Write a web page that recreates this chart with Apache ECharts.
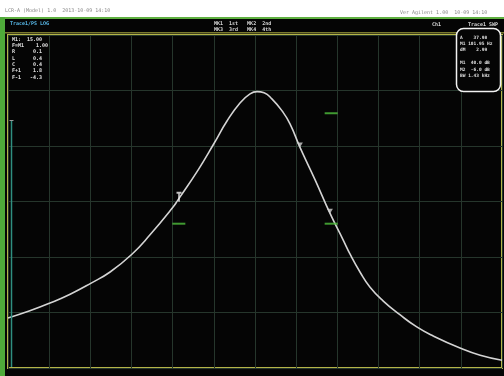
<!DOCTYPE html>
<html>
<head>
<meta charset="utf-8">
<script src="https://cdn.jsdelivr.net/npm/echarts@6/dist/echarts.min.js"></script>
<style>
  html, body { margin: 0; padding: 0; background: #ffffff; }
  #chart { width: 504px; height: 376px; }
</style>
</head>
<body>
<div id="chart"></div>
<script>
// Screen divisions: 12 horizontal x 6 vertical
const xDivisions = [0, 12];
const yDivisions = [0, 6];

// Resonance trace, position in divisions
const traceX = [0.00, 0.53, 1.02, 1.51, 2.02, 2.48, 3.01, 3.45, 4.01, 4.13, 4.62, 5.00, 5.32, 5.64, 5.88, 6.05, 6.22, 6.41, 6.66, 6.85, 7.09, 7.46, 7.82, 8.14, 8.31, 8.55, 8.79, 9.11, 9.52, 9.93, 10.32, 10.98, 11.47, 12.00];
const traceY = [0.90, 1.03, 1.17, 1.33, 1.53, 1.73, 2.05, 2.40, 2.90, 3.03, 3.57, 4.04, 4.45, 4.78, 4.94, 4.98, 4.96, 4.85, 4.63, 4.40, 3.98, 3.39, 2.79, 2.31, 2.05, 1.73, 1.46, 1.21, 0.96, 0.74, 0.58, 0.36, 0.23, 0.14];

// Markers on the trace
const marker1 = [4.13, 3.03];
const deltaMarkersX = [7.09, 7.82];
const deltaMarkersY = [3.98, 2.79];

// Limit ticks (green)
const limitX = [4.15, 7.85, 7.85];
const limitY = [2.60, 4.59, 2.60];

// Readout texts
const headerLeft = 'Trace1/PS LOG';
const headerMid1 = 'MK1  1st   MK2  2nd';
const headerMid2 = 'MK3  3rd   MK4  4th';
const headerCh = 'Ch1';
const headerRight = 'Trace1 SWP';
const topLeftInfo = 'LCR-A (Model) 1.0  2013-10-09 14:10';
const topRightInfo = 'Ver Agilent 1.00  10-09 14:10';
const leftReadout = ['M1:  15.00', 'F=M1    1.00', 'R      0.1', 'L      0.4', 'C      0.4', 'F+1    1.8', 'F-1   -4.3'];
const rightReadout = ['A    37.98', 'M1 101.95 Hz', 'dM    2.99', '', 'M1  40.0 dB', 'M2  -6.0 dB', 'BW 1.43 kHz'];

const chart = echarts.init(document.getElementById('chart'), null, { renderer: 'canvas' });

const FONT = 'DejaVu Sans Mono';
const graphics = [
  // instrument screen
  { type: 'rect', z: -10, shape: { x: 0, y: 19, width: 504, height: 357 }, style: { fill: '#050505' } },
  { type: 'rect', z: -9, shape: { x: 0, y: 17, width: 504, height: 2 }, style: { fill: '#5fb040' } },
  { type: 'rect', z: -9, shape: { x: 0, y: 17, width: 5, height: 359 }, style: { fill: '#4faa3a' } },
  // header divider
  { type: 'rect', z: -8, shape: { x: 5, y: 32, width: 499, height: 1.5 }, style: { fill: '#7a7a30' } },
  // reference level bar
  { type: 'line', z: 5, shape: { x1: 11.5, y1: 121, x2: 11.5, y2: 367 }, style: { stroke: '#2f8f80', lineWidth: 1.5 } },
  { type: 'line', z: 5, shape: { x1: 9.5, y1: 120.5, x2: 13.5, y2: 120.5 }, style: { stroke: '#9a9a9a', lineWidth: 1 } },
  // top strip
  { type: 'text', x: 5, y: 8, style: { text: topLeftInfo, fill: '#8a8a8a', font: '5px ' + FONT } },
  { type: 'text', x: 400, y: 10, style: { text: topRightInfo, fill: '#8a8a8a', font: '5px ' + FONT } },
  // header
  { type: 'text', x: 10, y: 21, style: { text: headerLeft, fill: '#58b8e8', font: 'bold 5px ' + FONT } },
  { type: 'text', x: 214, y: 21, style: { text: headerMid1, fill: '#d8d8d8', font: 'bold 5px ' + FONT } },
  { type: 'text', x: 214, y: 27, style: { text: headerMid2, fill: '#d8d8d8', font: 'bold 5px ' + FONT } },
  { type: 'text', x: 432, y: 22, style: { text: headerCh, fill: '#d8d8d8', font: 'bold 5px ' + FONT } },
  { type: 'text', x: 468, y: 22, style: { text: headerRight, fill: '#d8d8d8', font: 'bold 5px ' + FONT } },
  // right readout frame
  { type: 'rect', z: 20, shape: { x: 456.5, y: 28.5, width: 44, height: 63, r: 7 }, style: { fill: '#050505', stroke: '#f2f2f2', lineWidth: 1.5 } }
];
leftReadout.forEach((t, i) => {
  graphics.push({ type: 'text', z: 21, x: 12, y: 37 + i * 6.3, style: { text: t, fill: '#e0e0e0', font: 'bold 5px ' + FONT } });
});
rightReadout.forEach((t, i) => {
  graphics.push({ type: 'text', z: 21, x: 460, y: 35 + i * 6.4, style: { text: t, fill: '#e0e0e0', font: 'bold 4.5px ' + FONT } });
});

const gridLine = { show: true, lineStyle: { color: '#26362c', width: 1 } };

chart.setOption({
  backgroundColor: '#ffffff',
  animation: false,
  grid: { left: 8, right: 2, top: 35, bottom: 8, show: true, borderColor: '#b4b448', borderWidth: 2, backgroundColor: 'transparent' },
  xAxis: {
    type: 'value', min: xDivisions[0], max: xDivisions[1], interval: 1,
    axisLine: { show: false }, axisTick: { show: false }, axisLabel: { show: false },
    splitLine: gridLine
  },
  yAxis: {
    type: 'value', min: yDivisions[0], max: yDivisions[1], interval: 1,
    axisLine: { show: false }, axisTick: { show: false }, axisLabel: { show: false },
    splitLine: gridLine
  },
  graphic: graphics,
  series: [
    {
      type: 'line',
      data: traceX.map((x, i) => [x, traceY[i]]),
      smooth: 0.5,
      showSymbol: false,
      lineStyle: { color: '#d4d4d4', width: 1.6 },
      z: 3
    },
    {
      type: 'scatter',
      data: limitX.map((x, i) => [x, limitY[i]]),
      symbol: 'rect',
      symbolSize: [13, 2],
      itemStyle: { color: '#4fbf3c' },
      z: 4
    },
    {
      type: 'scatter',
      data: [marker1],
      symbol: 'path://M0,0 L6,0 L6,2 L4,2 L4,10 L2,10 L2,2 L0,2 Z',
      symbolSize: [5, 10],
      symbolOffset: [1, -3],
      itemStyle: { color: '#f0f0f0' },
      z: 6
    },
    {
      type: 'scatter',
      data: deltaMarkersX.map((x, i) => [x, deltaMarkersY[i]]),
      symbol: 'triangle',
      symbolRotate: 180,
      symbolSize: [6, 5],
      symbolOffset: [0, -2],
      itemStyle: { color: '#cfcfcf' },
      z: 6
    }
  ]
});
</script>
</body>
</html>
